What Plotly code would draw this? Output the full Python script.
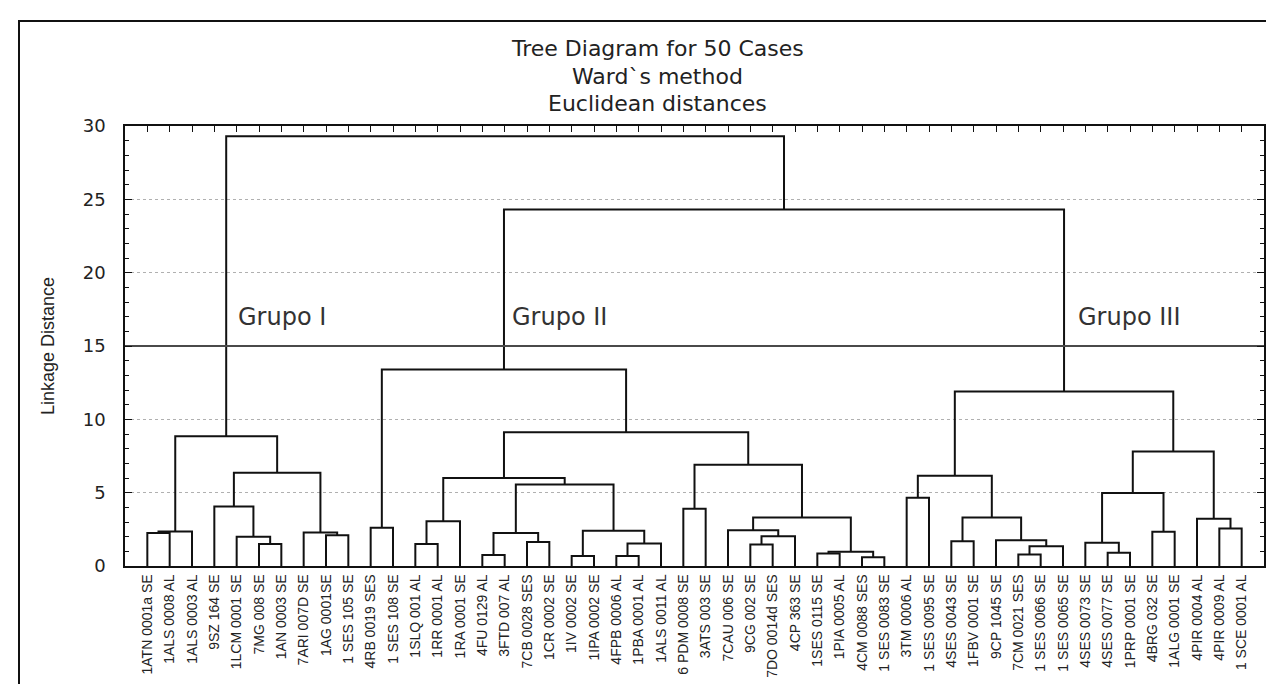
import plotly.graph_objects as go

# ---------------- data ----------------
leaf_labels = [
    "1ATN 0001a SE", "1ALS 0008 AL", "1ALS 0003 AL", "9SZ 164 SE", "1LCM 0001 SE",
    "7MG 008 SE", "1AN 0003 SE", "7ARI 007D SE", "1AG 0001SE", "1 SES 105 SE",
    "4RB 0019 SES", "1 SES 108 SE", "1SLQ 001 AL", "1RR 0001 AL", "1RA 0001 SE",
    "4FU 0129 AL", "3FTD 007 AL", "7CB 0028 SES", "1CR 0002 SE", "1IV 0002 SE",
    "1IPA 0002 SE", "4FPB 0006 AL", "1PBA 0001 AL", "1ALS 0011 AL", "6 PDM 0008 SE",
    "3ATS 003 SE", "7CAU 006 SE", "9CG 002 SE", "7DO 0014d SES", "4CP 363 SE",
    "1SES 0115 SE", "1PIA 0005 AL", "4CM 0088 SES", "1 SES 0083 SE", "3TM 0006 AL",
    "1 SES 0095 SE", "4SES 0043 SE", "1FBV 0001 SE", "9CP 1045 SE", "7CM 0021 SES",
    "1 SES 0066 SE", "1 SES 0065 SE", "4SES 0073 SE", "4SES 0077 SE", "1PRP 0001 SE",
    "4BRG 032 SE", "1ALG 0001 SE", "4PIR 0004 AL", "4PIR 0009 AL", "1 SCE 0001 AL",
]

# linkage: leaves are nodes 0..49, merge k creates node 50+k
merge_left = [0, 50, 5, 4, 3, 8, 7, 54, 51,
              10, 12, 60, 15, 17, 62, 19, 21, 66, 65, 64, 61,
              24, 27, 72, 26, 30, 32, 75, 74, 71, 70, 59,
              34, 36, 39, 84, 38, 83, 82, 43, 42, 45, 90, 48, 47, 92, 88,
              81, 58]
merge_right = [1, 2, 6, 52, 53, 9, 55, 56, 57,
               11, 13, 14, 16, 18, 63, 20, 22, 23, 67, 68, 69,
               25, 28, 29, 73, 31, 33, 76, 77, 78, 79, 80,
               35, 37, 40, 41, 85, 86, 87, 44, 89, 46, 91, 49, 93, 94, 95,
               96, 97]
merge_height = [2.25, 2.36, 1.5, 2.0, 4.05, 2.1, 2.28, 6.35, 8.85,
                2.6, 1.5, 3.05, 0.75, 1.64, 2.25, 0.68, 0.68, 1.53, 2.4, 5.56, 6.0,
                3.9, 1.46, 2.03, 2.43, 0.85, 0.6, 0.97, 3.3, 6.9, 9.12, 13.4,
                4.66, 1.69, 0.79, 1.35, 1.76, 3.3, 6.15, 0.9, 1.58, 2.34, 4.97,
                2.55, 3.22, 7.8, 11.9,
                24.3, 29.3]

group_cut = 15.0
group_names = ["Grupo I", "Grupo II", "Grupo III"]
group_label_x = [4.95, 17.25, 42.6]

title_lines = ["Tree Diagram for 50 Cases", "Ward`s method", "Euclidean distances"]

# ---------------- build dendrogram segments ----------------
pos = {i: i + 1 for i in range(len(leaf_labels))}
hgt = {i: 0.0 for i in range(len(leaf_labels))}
xs, ys = [], []
for k, (a, b, hh) in enumerate(zip(merge_left, merge_right, merge_height)):
    node = len(leaf_labels) + k
    xs += [pos[a], pos[a], pos[b], pos[b], None]
    ys += [hgt[a], hh, hh, hgt[b], None]
    pos[node] = (pos[a] + pos[b]) / 2.0
    hgt[node] = hh

fig = go.Figure()
fig.add_trace(go.Scatter(x=xs, y=ys, mode="lines",
                         line=dict(color="#111111", width=2),
                         hoverinfo="skip", showlegend=False))
fig.add_trace(go.Scatter(x=[0, len(leaf_labels) + 1], y=[group_cut, group_cut],
                         mode="lines", line=dict(color="#4a4a4a", width=2),
                         hoverinfo="skip", showlegend=False))

W, H = 1274, 684
ml, mr, mt, mb = 117, 18, 118, 126
pw, ph = W - ml - mr, H - mt - mb


def px_x(p):
    return (p - ml) / pw


def px_y(p):
    return (H - mb - p) / ph


annotations = []
for name, gx in zip(group_names, group_label_x):
    annotations.append(dict(x=gx, y=17.0, xref="x", yref="y", text=name,
                            showarrow=False, xanchor="left", yanchor="middle",
                            font=dict(family="DejaVu Sans", size=24, color="#333333")))
for line, cy in zip(title_lines, [41, 68, 95]):
    annotations.append(dict(x=px_x(649), y=px_y(cy), xref="paper", yref="paper",
                            text=line, showarrow=False, xanchor="center", yanchor="middle",
                            font=dict(family="DejaVu Sans", size=22, color="#222222")))
annotations.append(dict(x=px_x(40), y=0.5, xref="paper", yref="paper",
                        text="Linkage Distance", textangle=-90, showarrow=False,
                        xanchor="center", yanchor="middle",
                        font=dict(family="Liberation Sans", size=18, color="#222222")))

fig.update_layout(
    width=W, height=H,
    margin=dict(l=ml, r=mr, t=mt, b=mb, autoexpand=False),
    paper_bgcolor="white", plot_bgcolor="white",
    annotations=annotations,
    shapes=[dict(type="rect", xref="paper", yref="paper",
                 x0=px_x(11), x1=px_x(1290), y0=px_y(700), y1=px_y(13),
                 line=dict(color="#111111", width=2), layer="above")],
)
fig.update_xaxes(
    range=[0, len(leaf_labels) + 1], automargin=False,
    tickmode="array", tickvals=list(range(1, len(leaf_labels) + 1)), ticktext=leaf_labels,
    tickangle=-90, ticks="inside", ticklen=6, tickcolor="#111111",
    showline=True, linecolor="#111111", linewidth=1.5, mirror="ticks",
    showgrid=False, zeroline=False, ticklabelstandoff=1,
    tickfont=dict(family="Liberation Sans", size=14, color="#222222"),
)
fig.update_yaxes(
    range=[0, 30], dtick=5, automargin=False,
    ticks="inside", ticklen=7, tickcolor="#111111",
    minor=dict(ticks="inside", dtick=1, ticklen=4, tickcolor="#111111", showgrid=False),
    showline=True, linecolor="#111111", linewidth=1.5, mirror="ticks",
    showgrid=True, gridcolor="#b0b0b0", griddash="dot", gridwidth=1,
    zeroline=False, ticklabelstandoff=14,
    tickfont=dict(family="DejaVu Sans", size=18, color="#222222"),
)

fig.write_html("out.html")
